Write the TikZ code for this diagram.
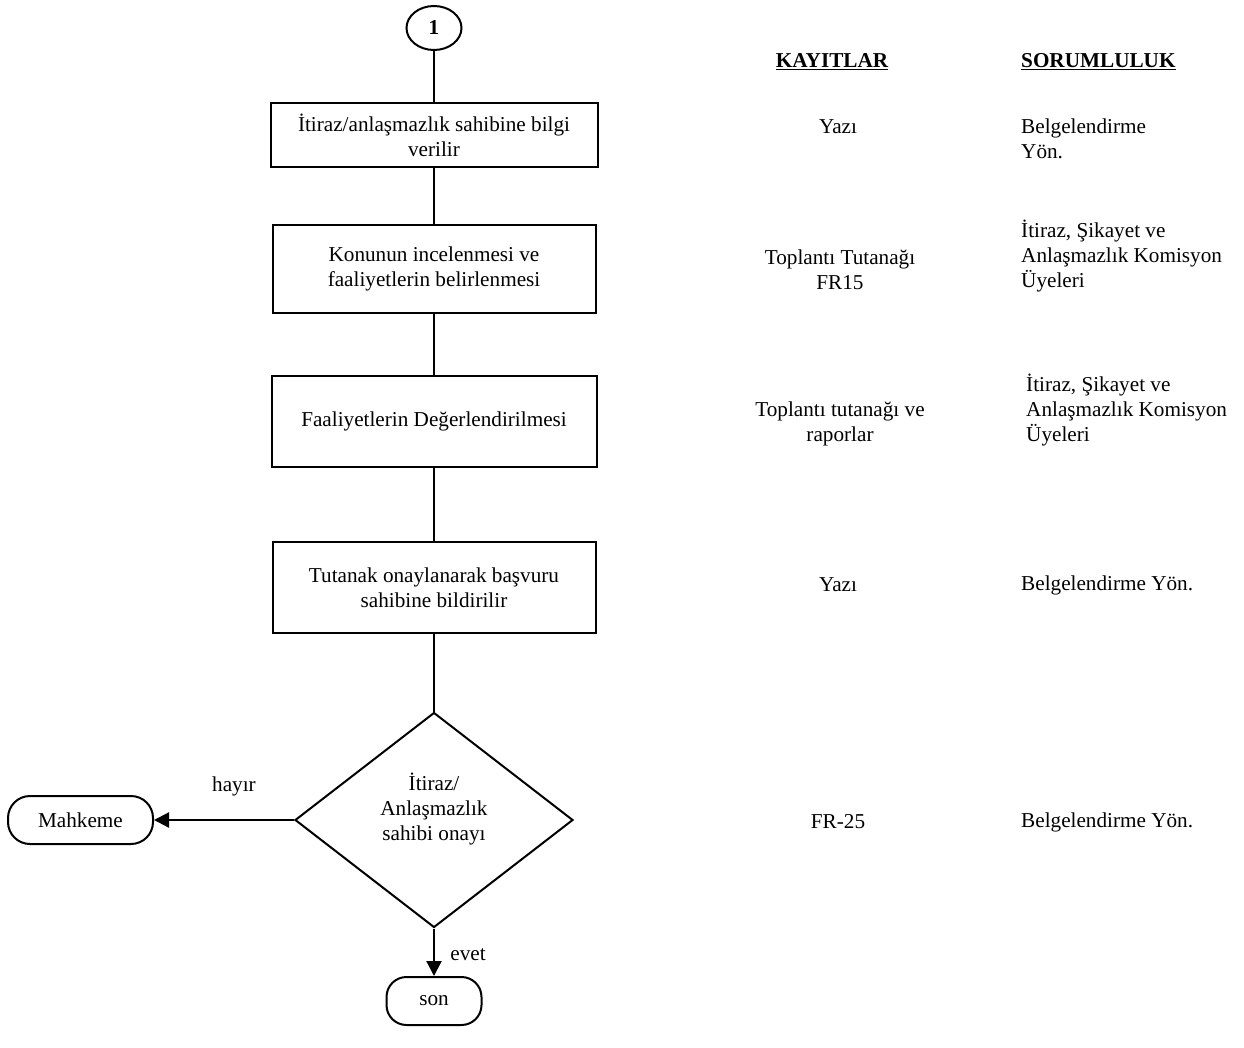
\documentclass[tikz,border=0pt]{standalone}
\usepackage{fontspec}
\setmainfont{Liberation Serif}
\usetikzlibrary{shapes.geometric,arrows.meta}
\begin{document}
\begin{tikzpicture}[x=1pt,y=-1pt,
  every node/.style={font=\fontsize{21.2}{25}\selectfont, inner sep=0pt},
  procbox/.style={draw, line width=2pt, rectangle, align=center},
  decbox/.style={draw, line width=2pt, diamond, align=center, minimum width=278pt, minimum height=215pt},
  termbox/.style={draw, line width=2pt, rectangle, rounded corners=22pt, align=center},
  conn/.style={line width=2.2pt},
  arr/.style={line width=2.2pt, -{Triangle[length=15pt,width=15pt]}},
  rec/.style={align=center},
  resp/.style={align=left, anchor=west}
]
\useasboundingbox (0,0) rectangle (1244,1048);

\node[draw, line width=2pt, ellipse, minimum width=55pt, minimum height=44pt, font=\fontsize{21.2}{25}\selectfont\bfseries] (c1) at (434,28) {1};

\node[procbox, minimum width=327pt, minimum height=64pt] (b1) at (434,135) {İtiraz/anlaşmazlık sahibine bilgi\\verilir};
\node[procbox, minimum width=323pt, minimum height=88pt] (b2) at (434,269) {Konunun incelenmesi ve\\faaliyetlerin  belirlenmesi};
\node[procbox, minimum width=325pt, minimum height=91pt] (b3) at (434,421.5) {Faaliyetlerin Değerlendirilmesi};
\node[procbox, minimum width=323pt, minimum height=91pt] (b4) at (434,587.5) {Tutanak onaylanarak başvuru\\sahibine bildirilir};
\node[decbox] (d1) at (434,820) {};
\node[align=center] (dt) at (434,809) {İtiraz/\\Anlaşmazlık\\sahibi onayı};

\node[termbox, minimum width=145pt, minimum height=48pt] (mah) at (80.5,820) {Mahkeme};
\node[termbox, rounded corners=20pt, minimum width=95pt, minimum height=48pt] (son) at (434,1001) {son};

\node (hayir) at (234,786) {hayır};
\node (evet) at (468,955) {evet};

\draw[conn] (c1) -- (b1);
\draw[conn] (b1) -- (b2);
\draw[conn] (b2) -- (b3);
\draw[conn] (b3) -- (b4);
\draw[conn] (b4) -- (d1.north);
\draw[arr] (d1.west) -- (mah.east);
\draw[arr] (d1.south) -- (son.north);

\node[font=\fontsize{21.2}{25}\selectfont\bfseries] (hk) at (832,62) {\underline{KAYITLAR}};
\node[font=\fontsize{21.2}{25}\selectfont\bfseries, anchor=west] (hs) at (1021,62) {\underline{SORUMLULUK}};

\node[rec] (k1) at (838,127) {Yazı};
\node[rec] (k2) at (840,270) {Toplantı Tutanağı\\FR15};
\node[rec] (k3) at (840,424) {Toplantı tutanağı ve\\raporlar};
\node[rec] (k4) at (838,585) {Yazı};
\node[rec] (k5) at (838,822) {FR-25};

\node[resp] (s1) at (1021,139) {Belgelendirme\\Yön.};
\node[resp] (s2) at (1021,256) {İtiraz, Şikayet ve\\Anlaşmazlık Komisyon\\Üyeleri};
\node[resp] (s3) at (1026,410) {İtiraz, Şikayet ve\\Anlaşmazlık Komisyon\\Üyeleri};
\node[resp] (s4) at (1021,585) {Belgelendirme Yön.};
\node[resp] (s5) at (1021,822) {Belgelendirme Yön.};
\end{tikzpicture}
\end{document}
